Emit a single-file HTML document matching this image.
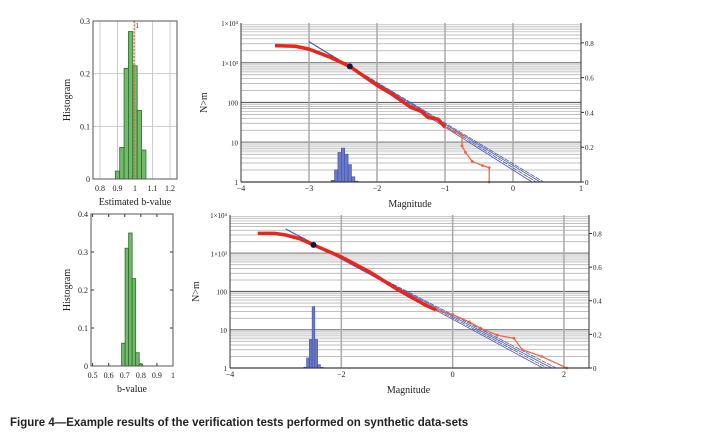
<!DOCTYPE html>
<html><head><meta charset="utf-8"><style>
body{margin:0;background:#fff;width:716px;height:441px;overflow:hidden}
svg text{font-family:"Liberation Serif",serif;fill:#222}
</style></head><body>
<svg id="fig" width="716" height="441">
<g id="root"></g>
<text x="10" y="426" style="font-family:'Liberation Sans',sans-serif;font-weight:bold;font-size:11.5px" fill="#111">Figure 4—Example results of the verification tests performed on synthetic data-sets</text>
</svg>
<script>
// ---- data ----
const hist1Start = 0.8875, hist1Width = 0.025;
const hist1Values = [0.015, 0.06, 0.21, 0.28, 0.215, 0.13, 0.055];
const hist1Mean = 0.995;
const hist1XTicks = [0.8, 0.9, 1, 1.1, 1.2];
const hist1YTicks = [0, 0.1, 0.2, 0.3];
const hist2Start = 0.68, hist2Width = 0.022;
const hist2Values = [0.06, 0.31, 0.35, 0.23, 0.035, 0.005];
const hist2XTicks = [0.5, 0.6, 0.7, 0.8, 0.9, 1];
const hist2YTicks = [0, 0.1, 0.2, 0.3, 0.4];

const top_redM = [-3.5, -3.2, -3.0, -2.7, -2.4, -2.0, -1.8, -1.5, -1.35, -1.25, -1.1, -1.05, -1.0, -0.85, -0.75, -0.75, -0.7, -0.6, -0.45, -0.35, -0.35];
const top_redN = [2700, 2600, 2200, 1400, 810, 270, 170, 75, 60, 42, 38, 30, 24, 18, 15, 8.1, 5.6, 3.3, 2.6, 2.3, 1];
const top_blueStart = [-3.0, -3.0, -3.0, -3.0];
const top_blueStartN = [3400, 3400, 3400, 3400];
const top_blueEnd = [0.28, 0.34, 0.40, 0.45];
const top_dotM = -2.4, top_dotN = 810;
const top_bhistM = [-2.65, -2.6, -2.55, -2.5, -2.45, -2.4, -2.35, -2.3];
const top_bhistV = [0.01, 0.07, 0.17, 0.195, 0.16, 0.1, 0.03, 0.005];
const top_xTicks = [-4, -3, -2, -1, 0, 1];

const bot_redM = [-3.5, -3.2, -3.0, -2.75, -2.5, -2.0, -1.5, -1.0, -0.5, -0.3, 0, 0.3, 0.5, 0.8, 1.1, 1.25, 1.6, 2.05];
const bot_redN = [3300, 3300, 3000, 2400, 1650, 800, 330, 115, 45, 33, 25, 16, 11, 7.2, 6.0, 3.0, 2.0, 1];
const bot_blueStartM = [-3.0, -3.0, -3.0, -3.0];
const bot_blueStartN = [4300, 4300, 4300, 4300];
const bot_blueEnd = [1.62, 1.7, 1.78, 1.86];
const bot_dotM = -2.5, bot_dotN = 1650;
const bot_bhistM = [-2.65, -2.6, -2.55, -2.5, -2.45, -2.4, -2.35];
const bot_bhistV = [0.005, 0.06, 0.17, 0.365, 0.17, 0.02, 0.004];
const bot_xTicks = [-4, -2, 0, 2];

const yLogTicks = [1, 10, 100, 1000, 10000];
const yLogLabels = ["1", "10", "100", "1×10³", "1×10⁴"];
const rightTicks = [0, 0.2, 0.4, 0.6, 0.8];

// ---- drawing ----
const NS = "http://www.w3.org/2000/svg";
const root = document.getElementById('root');
function mk(tag, attrs, parent) {
  const e = document.createElementNS(NS, tag);
  for (const k in attrs) e.setAttribute(k, attrs[k]);
  (parent || root).appendChild(e);
  return e;
}
function txt(x, y, s, size, anchor, parent) {
  const t = mk('text', {x: x, y: y, 'font-size': size, 'text-anchor': anchor || 'middle'}, parent);
  t.textContent = s;
  return t;
}

function histogram(name, box, xr, yr, start, width, values, xt, yt, grid, mean, xlabel) {
  const g = mk('g', {});
  
  
  const X = v => box.x0 + (v - xr[0]) / (xr[1] - xr[0]) * (box.x1 - box.x0);
  const Y = v => box.y1 - (v - yr[0]) / (yr[1] - yr[0]) * (box.y1 - box.y0);
  xt.forEach(v => {
    if (grid) mk('line', {x1: X(v), x2: X(v), y1: box.y0, y2: box.y1, stroke: '#ccc', 'stroke-width': 1}, g);
    else { mk('line', {x1: X(v), x2: X(v), y1: box.y1, y2: box.y1 - 3, stroke: '#333'}, g); mk('line', {x1: X(v), x2: X(v), y1: box.y0, y2: box.y0 + 3, stroke: '#333'}, g); }
    const t = txt(X(v), box.y1 + 12, String(v), 8, 'middle', g);
    
    
  });
  yt.forEach(v => {
    if (grid) mk('line', {x1: box.x0, x2: box.x1, y1: Y(v), y2: Y(v), stroke: '#ccc'}, g);
    else { mk('line', {x1: box.x0, x2: box.x0 + 3, y1: Y(v), y2: Y(v), stroke: '#333'}, g); mk('line', {x1: box.x1, x2: box.x1 - 3, y1: Y(v), y2: Y(v), stroke: '#333'}, g); }
    const t = txt(box.x0 - 3, Y(v) + 3, String(v), 8, 'end', g);
    
    
  });
  values.forEach((v, i) => {
    const a = X(start + i * width), b = X(start + (i + 1) * width);
    const r = mk('rect', {x: a, y: Y(v), width: b - a, height: Y(0) - Y(v), fill: '#72b96b', stroke: '#2d6d2a', 'stroke-width': 0.8}, g);
    
    
  });
  mk('line', {x1: box.x0, x2: box.x1, y1: box.y1, y2: box.y1, stroke: '#3a8a3a', 'stroke-width': 1}, g);
  if (mean !== null) {
    const l = mk('line', {x1: X(mean), x2: X(mean), y1: box.y0, y2: box.y1, stroke: '#e0603a', 'stroke-dasharray': '2,1.5'}, g);
    
    
    txt(X(mean) + 3, box.y0 + 7, '1', 7, 'middle', g);
  }
  mk('rect', {x: box.x0, y: box.y0, width: box.x1 - box.x0, height: box.y1 - box.y0, fill: 'none', stroke: '#555', 'stroke-width': 1}, g);
  const yl = txt(0, 0, 'Histogram', 10, 'middle', g);
  yl.setAttribute('transform', `translate(70,${(box.y0 + box.y1) / 2}) rotate(-90)`);
  
  
  const xl = txt((box.x0 + box.x1) / 2, box.y1 + 26, xlabel, 10, 'middle', g);
  
  
}

function fmd(name, box, xr, rr, xt, redM, redN, bS, bSN, bE, dM, dN, hM, hV, hw, ylx) {
  const g = mk('g', {});
  
  
  const X = v => box.x0 + (v - xr[0]) / (xr[1] - xr[0]) * (box.x1 - box.x0);
  const Y = n => box.y1 - Math.log10(n) / 4 * (box.y1 - box.y0);
  const R = v => box.y1 - v / rr * (box.y1 - box.y0);
  for (let d = 0; d < 4; d++) for (let k = 1; k <= 9; k++) {
    const n = k * Math.pow(10, d);
    mk('line', {x1: box.x0, x2: box.x1, y1: Y(n), y2: Y(n), stroke: k === 1 ? '#666' : '#aaa', 'stroke-width': k === 1 ? 1.3 : 0.7}, g);
  }
  [10, 1000].forEach(n => mk('rect', {x: box.x0, y: Y(n), width: box.x1 - box.x0, height: Y(n * 0.55) - Y(n), fill: '#ddd', opacity: 0.6}, g));
  xt.forEach(v => {
    if (v > xr[0] && v < xr[1]) mk('line', {x1: X(v), x2: X(v), y1: box.y0, y2: box.y1, stroke: '#aaa', 'stroke-width': 1.5}, g);
    const t = txt(X(v), box.y1 + 9, String(v).replace('-', '−'), 8, 'middle', g);
    
    
  });
  yLogTicks.forEach((n, i) => {
    const t = txt(box.x0 - 3, Y(n) + 3, yLogLabels[i], 7, 'end', g);
    
    
  });
  rightTicks.forEach(v => {
    mk('line', {x1: box.x1, x2: box.x1 + 3, y1: R(v), y2: R(v), stroke: '#333'}, g);
    const t = txt(box.x1 + 4, R(v) + 3, String(v), 7, 'start', g);
    
    
  });
  hM.forEach((m, i) => {
    const a = X(m - hw / 2), b = X(m + hw / 2);
    const r = mk('rect', {x: a, y: R(hV[i]), width: b - a, height: R(0) - R(hV[i]), fill: '#6a78c8', stroke: '#3a48a0', 'stroke-width': 0.5}, g);
    
    
  });
  bS.forEach((s, i) => {
    const l = mk('line', {x1: X(s), y1: Y(bSN[i]), x2: X(bE[i]), y2: Y(1), stroke: '#4a5ab0', 'stroke-width': 0.8, 'stroke-dasharray': i % 2 ? '5,1' : ''}, g);
    
    
  });
  const pts = redM.map((m, i) => X(m) + ',' + Y(redN[i])).join(' ');
  const cut = redM.length - 8;
  const thick = redM.slice(0, cut).map((m, i) => X(m) + ',' + Y(redN[i])).join(' ');
  const p1 = mk('polyline', {points: pts, fill: 'none', stroke: '#f06040', 'stroke-width': 1.2}, g);
  
  
  const p2 = mk('polyline', {points: thick, fill: 'none', stroke: '#e8261c', 'stroke-width': 3.5, 'stroke-linejoin': 'round'}, g);
  
  
  redM.forEach((m, i) => { if (i >= cut) mk('circle', {cx: X(m), cy: Y(redN[i]), r: 1.4, fill: '#f06040'}, g); });
  const dot = mk('circle', {cx: X(dM), cy: Y(dN), r: 3, fill: '#111840'}, g);
  
  
  mk('line', {x1: box.x0, x2: box.x0, y1: box.y0, y2: box.y1, stroke: '#333'}, g);
  mk('line', {x1: box.x0, x2: box.x1, y1: box.y1, y2: box.y1, stroke: '#333'}, g);
  mk('line', {x1: box.x1, x2: box.x1, y1: box.y0, y2: box.y1, stroke: '#333'}, g);
  const yl = txt(0, 0, 'N>m', 10, 'middle', g);
  yl.setAttribute('transform', `translate(${ylx},${(box.y0 + box.y1) / 2}) rotate(-90)`);
  
  
  const xl = txt((box.x0 + box.x1) / 2 - 1, box.y1 + 25, 'Magnitude', 10, 'middle', g);
  
  
}

histogram('top-b-value-histogram', {x0: 93, x1: 177, y0: 21, y1: 179}, [0.76, 1.24], [0, 0.3], hist1Start, hist1Width, hist1Values, hist1XTicks, hist1YTicks, true, hist1Mean, 'Estimated b-value');
histogram('bottom-b-value-histogram', {x0: 91, x1: 173, y0: 214, y1: 366}, [0.49, 1.0], [0, 0.4], hist2Start, hist2Width, hist2Values, hist2XTicks, hist2YTicks, false, null, 'b-value');
fmd('top-frequency-magnitude-chart', {x0: 241, x1: 581, y0: 23, y1: 182}, [-4, 1], 0.914, top_xTicks, top_redM, top_redN, top_blueStart, top_blueStartN, top_blueEnd, top_dotM, top_dotN, top_bhistM, top_bhistV, 0.05, 207);
fmd('bottom-frequency-magnitude-chart', {x0: 230, x1: 589, y0: 215, y1: 368}, [-4, 2.45], 0.91, bot_xTicks, bot_redM, bot_redN, bot_blueStartM, bot_blueStartN, bot_blueEnd, bot_dotM, bot_dotN, bot_bhistM, bot_bhistV, 0.05, 199);
</script>
</body></html>
